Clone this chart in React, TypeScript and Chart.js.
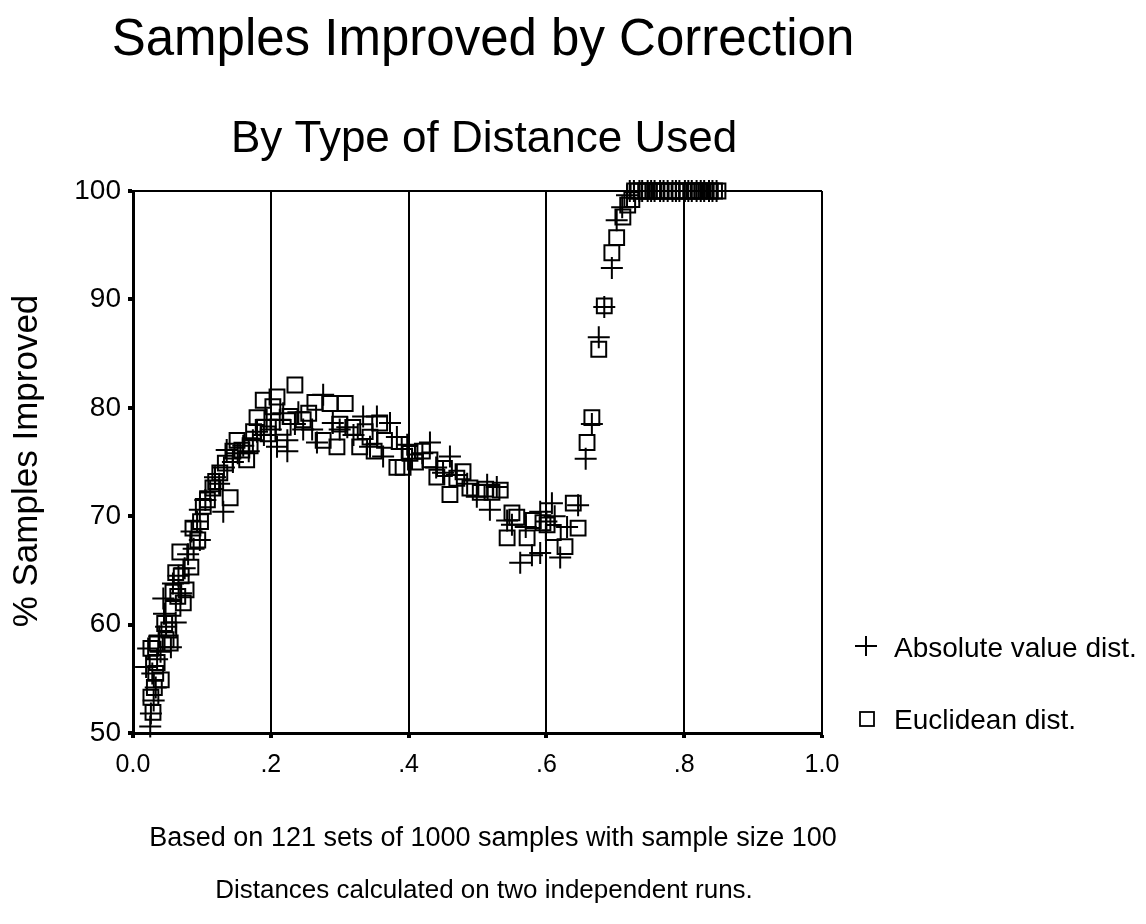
import React, { useEffect, useRef } from "react";
import { Chart, registerables } from "chart.js";

Chart.register(...registerables);

const TITLE = "Samples Improved by Correction";
const SUBTITLE = "By Type of Distance Used";
const Y_TITLE = "% Samples Improved";
const FOOTNOTES = [
  "Based on 121 sets of 1000 samples with sample size 100",
  "Distances calculated on two independent runs.",
];
const SERIES_NAMES = ["Absolute value dist.", "Euclidean dist."];
const X_TICKS = [0, 0.2, 0.4, 0.6, 0.8, 1.0];
const X_TICK_LABELS = ["0.0", ".2", ".4", ".6", ".8", "1.0"];
const Y_TICKS = [50, 60, 70, 80, 90, 100];

const absX = [
  0.025, 0.026, 0.030, 0.033, 0.028, 0.019, 0.035, 0.022, 0.040, 0.055,
  0.038, 0.048, 0.062, 0.045, 0.044, 0.070, 0.058, 0.066, 0.075, 0.080,
  0.088, 0.097, 0.085, 0.093, 0.097, 0.105, 0.131, 0.112, 0.119, 0.125,
  0.132, 0.136, 0.145, 0.152, 0.160, 0.174, 0.168, 0.180, 0.194, 0.190,
  0.209, 0.224, 0.213, 0.200, 0.218, 0.247, 0.224, 0.235, 0.240, 0.267,
  0.276, 0.260, 0.290, 0.300, 0.311, 0.320, 0.334, 0.344, 0.354, 0.363,
  0.373, 0.383, 0.390, 0.398, 0.405, 0.420, 0.431, 0.440, 0.450, 0.460,
  0.470, 0.485, 0.499, 0.514, 0.518, 0.528, 0.543, 0.550, 0.562, 0.570,
  0.579, 0.591, 0.591, 0.600, 0.608, 0.612, 0.620, 0.630, 0.646, 0.657,
  0.666, 0.676, 0.684, 0.695, 0.702, 0.710, 0.717,
  0.721, 0.727, 0.735, 0.739, 0.747, 0.752, 0.757, 0.765, 0.770, 0.776,
  0.783, 0.788, 0.793, 0.801, 0.806, 0.811, 0.818, 0.824, 0.829, 0.836,
  0.841, 0.847,
];
const absY = [
  50.6, 51.8, 53.0, 54.2, 55.5, 56.1, 56.8, 57.8, 57.5, 57.9,
  58.9, 59.8, 60.2, 61.0, 62.4, 62.9, 63.8, 64.5, 65.2, 66.5,
  67.0, 67.8, 68.6, 69.5, 70.6, 71.5, 70.4, 72.3, 73.6, 73.0,
  74.5, 76.1, 75.0, 75.8, 76.5, 77.0, 76.0, 77.8, 78.9, 77.5,
  76.4, 76.0, 78.9, 78.0, 79.5, 78.0, 77.0, 78.5, 79.6, 76.8,
  81.2, 78.0, 78.6, 78.0, 78.2, 77.5, 79.2, 76.4, 79.2, 75.5,
  78.6, 77.3, 76.2, 76.6, 75.3, 75.8, 76.8, 74.5, 74.0, 75.5,
  73.8, 73.0, 71.8, 72.9, 70.6, 72.7, 69.6, 69.2, 65.7, 69.0,
  66.4, 70.4, 66.6, 69.5, 71.2, 70.0, 66.2, 69.0, 71.0, 75.3,
  78.5, 86.5, 89.3, 92.9, 97.3, 98.5, 99.6,
  100, 100, 100, 100, 100, 100, 100, 100, 100, 100,
  100, 100, 100, 100, 100, 100, 100, 100, 100, 100,
  100, 100,
];

const eucX = [
  0.029, 0.026, 0.031, 0.041, 0.033, 0.035, 0.026, 0.054, 0.035, 0.048,
  0.046, 0.052, 0.058, 0.073, 0.065, 0.058, 0.077, 0.062, 0.070, 0.084,
  0.068, 0.094, 0.087, 0.098, 0.102, 0.108, 0.116, 0.141, 0.120, 0.126,
  0.134, 0.165, 0.158, 0.151, 0.145, 0.170, 0.175, 0.180, 0.189, 0.189,
  0.196, 0.203, 0.209, 0.218, 0.228, 0.235, 0.247, 0.255, 0.264, 0.276,
  0.286, 0.296, 0.300, 0.308, 0.319, 0.329, 0.337, 0.344, 0.350, 0.358,
  0.365, 0.383, 0.392, 0.402, 0.410, 0.420, 0.431, 0.441, 0.452, 0.460,
  0.470, 0.479, 0.489, 0.504, 0.512, 0.521, 0.533, 0.543, 0.550, 0.557,
  0.572, 0.581, 0.595, 0.601, 0.610, 0.627, 0.639, 0.646, 0.659, 0.666,
  0.676, 0.684, 0.695, 0.702, 0.711, 0.718, 0.724,
  0.728, 0.733, 0.738, 0.744, 0.749, 0.755, 0.760, 0.766, 0.771, 0.777,
  0.782, 0.788, 0.793, 0.799, 0.804, 0.810, 0.815, 0.821, 0.826, 0.832,
  0.838, 0.844, 0.849,
];
const eucY = [
  51.9, 53.3, 54.2, 54.9, 55.5, 56.5, 57.8, 58.3, 58.3, 58.6,
  60.1, 59.5, 61.5, 62.0, 62.6, 63.0, 63.2, 64.8, 64.5, 65.3,
  66.7, 67.8, 68.9, 69.5, 70.9, 71.5, 72.6, 71.7, 73.2, 74.0,
  74.9, 75.2, 76.1, 77.0, 76.0, 76.5, 77.8, 79.1, 78.2, 80.7,
  77.6, 80.1, 81.0, 78.2, 79.2, 82.1, 78.9, 79.5, 80.5, 77.0,
  80.4, 76.4, 78.5, 80.4, 78.2, 76.4, 77.8, 77.3, 76.0, 78.6,
  77.0, 74.5, 74.5, 75.8, 75.0, 76.0, 75.2, 73.6, 74.4, 72.0,
  73.5, 74.1, 72.6, 72.2, 72.5, 72.2, 72.4, 68.0, 70.3, 69.9,
  68.0, 69.6, 69.4, 69.2, 68.5, 67.2, 71.2, 68.9, 76.8, 79.1,
  85.4, 89.4, 94.3, 95.7, 97.6, 98.7, 99.2,
  100, 100, 100, 100, 100, 100, 100, 100, 100, 100,
  100, 100, 100, 100, 100, 100, 100, 100, 100, 100,
  100, 100, 100,
];

const FONT = '"Liberation Sans", Arial, Helvetica, sans-serif';

const textPlugin = {
  id: "textPlugin",
  afterDraw(chart: any) {
    const ctx = chart.ctx as CanvasRenderingContext2D;
    ctx.save();
    ctx.fillStyle = "#000";
    ctx.textAlign = "center";
    ctx.textBaseline = "alphabetic";
    ctx.font = `51px ${FONT}`;
    ctx.fillText(TITLE, 483, 55);
    ctx.font = `44px ${FONT}`;
    ctx.fillText(SUBTITLE, 484, 152);
    ctx.font = `27px ${FONT}`;
    ctx.fillText(FOOTNOTES[0], 493, 846);
    ctx.font = `26px ${FONT}`;
    ctx.fillText(FOOTNOTES[1], 484, 898);

    ctx.save();
    ctx.translate(37, 461);
    ctx.rotate(-Math.PI / 2);
    ctx.font = `35px ${FONT}`;
    ctx.fillText(Y_TITLE, 0, 0);
    ctx.restore();

    // legend
    ctx.strokeStyle = "#000";
    ctx.lineWidth = 2;
    const px = 866, py = 646;
    ctx.beginPath();
    ctx.moveTo(px - 11, py);
    ctx.lineTo(px + 11, py);
    ctx.moveTo(px, py - 10);
    ctx.lineTo(px, py + 10);
    ctx.stroke();
    ctx.lineWidth = 1.8;
    ctx.strokeRect(860, 712, 14, 14);
    ctx.textAlign = "left";
    ctx.font = `28px ${FONT}`;
    ctx.fillText(SERIES_NAMES[0], 894, 657);
    ctx.fillText(SERIES_NAMES[1], 894, 729);
    ctx.restore();
  },
};

export default function App() {
  const ref = useRef<HTMLCanvasElement | null>(null);
  useEffect(() => {
    if (!ref.current) return;
    const absData = absX.map((x, i) => ({ x, y: absY[i] }));
    const eucData = eucX.map((x, i) => ({ x, y: eucY[i] }));
    const chart = new Chart(ref.current, {
      type: "scatter",
      data: {
        datasets: [
          {
            label: SERIES_NAMES[0],
            data: absData,
            pointStyle: "cross",
            pointRadius: 11,
            pointBorderWidth: 2,
            borderColor: "#000",
            backgroundColor: "rgba(0,0,0,0)",
            clip: false,
          },
          {
            label: SERIES_NAMES[1],
            data: eucData,
            pointStyle: "rect",
            pointRadius: 10.5,
            pointBorderWidth: 2,
            borderColor: "#000",
            backgroundColor: "rgba(0,0,0,0)",
            clip: false,
          },
        ],
      },
      options: {
        responsive: false,
        animation: false,
        events: [],
        layout: { padding: { left: 0, right: 324, top: 191, bottom: 151 } },
        plugins: {
          legend: { display: false },
          title: { display: false },
          tooltip: { enabled: false },
        },
        scales: {
          x: {
            type: "linear",
            min: 0,
            max: 1,
            afterBuildTicks: (s: any) => {
              s.ticks = X_TICKS.map((v) => ({ value: v }));
            },
            afterFit: (s: any) => {
              s.height = 40;
            },
            ticks: {
              color: "#000",
              font: { family: FONT, size: 25 },
              padding: 12,
              maxRotation: 0,
              callback: (v: any) => {
                const i = X_TICKS.findIndex((t) => Math.abs(t - Number(v)) < 1e-9);
                return i >= 0 ? X_TICK_LABELS[i] : "";
              },
            },
            grid: {
              color: "#000",
              lineWidth: 2,
              tickColor: "#000",
              tickLength: 5,
              tickWidth: 4,
            },
            border: { display: true, color: "#000", width: 3 },
          },
          y: {
            type: "linear",
            min: 50,
            max: 100,
            afterBuildTicks: (s: any) => {
              s.ticks = Y_TICKS.map((v) => ({ value: v }));
            },
            afterFit: (s: any) => {
              s.width = 133;
            },
            ticks: {
              color: "#000",
              font: { family: FONT, size: 28 },
              padding: 7,
            },
            grid: {
              color: (c: any) => (c.tick && c.tick.value === 100 ? "#000" : "rgba(0,0,0,0)"),
              lineWidth: 2,
              tickColor: "#000",
              tickLength: 5,
              tickWidth: 4,
            },
            border: { display: true, color: "#000", width: 3 },
          },
        },
      },
      plugins: [textPlugin],
    });
    return () => chart.destroy();
  }, []);
  return (
    <div style={{ position: "absolute", left: 0, top: 0, width: 1146, height: 924, background: "#fff" }}>
      <canvas ref={ref} width={1146} height={924} style={{ display: "block" }} />
    </div>
  );
}
